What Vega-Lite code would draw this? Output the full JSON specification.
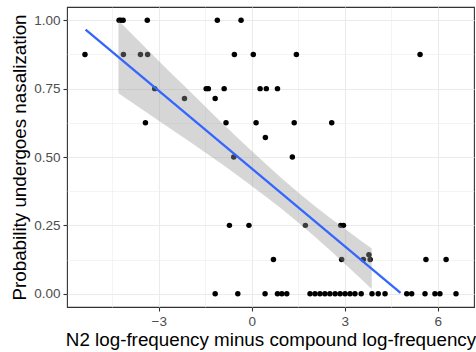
{
  "$schema": "https://vega.github.io/schema/vega-lite/v6.json",
  "autosize": "none",
  "width": 407,
  "height": 300,
  "padding": {"left": 67, "top": 7, "right": 2, "bottom": 45},
  "background": "white",
  "config": {
    "view": {"stroke": "#333333", "strokeWidth": 1.1},
    "font": "Liberation Sans"
  },
  "datasets": {
    "pts": [
      {"x": -5.38, "y": 0.875}, {"x": -4.14, "y": 0.875}, {"x": -3.59, "y": 0.875}, {"x": -3.36, "y": 0.875}, {"x": 5.43, "y": 0.875},
      {"x": -0.56, "y": 0.875}, {"x": 0.05, "y": 0.875}, {"x": 1.44, "y": 0.875},
      {"x": -4.28, "y": 1.0}, {"x": -4.23, "y": 1.0}, {"x": -4.15, "y": 1.0}, {"x": -3.37, "y": 1.0}, {"x": -1.11, "y": 1.0}, {"x": -0.345, "y": 1.0},
      {"x": -3.13, "y": 0.75}, {"x": -1.47, "y": 0.75}, {"x": -1.4, "y": 0.75}, {"x": -0.89, "y": 0.75}, {"x": 0.27, "y": 0.75}, {"x": 0.47, "y": 0.75}, {"x": 0.83, "y": 0.75},
      {"x": -2.17, "y": 0.714}, {"x": -1.18, "y": 0.714},
      {"x": -3.43, "y": 0.625}, {"x": -0.83, "y": 0.625}, {"x": 0.14, "y": 0.625}, {"x": 1.37, "y": 0.625}, {"x": 2.58, "y": 0.625},
      {"x": 0.44, "y": 0.571},
      {"x": -0.58, "y": 0.5}, {"x": 1.31, "y": 0.5},
      {"x": -0.72, "y": 0.25}, {"x": -0.09, "y": 0.25}, {"x": 1.73, "y": 0.25}, {"x": 2.87, "y": 0.25}, {"x": 2.96, "y": 0.25},
      {"x": 3.78, "y": 0.143},
      {"x": 0.7, "y": 0.125}, {"x": 2.9, "y": 0.125}, {"x": 3.6, "y": 0.125}, {"x": 3.82, "y": 0.125}, {"x": 5.62, "y": 0.125}, {"x": 6.27, "y": 0.125},
      {"x": -1.18, "y": 0}, {"x": -0.45, "y": 0}, {"x": 0.43, "y": 0}, {"x": 0.83, "y": 0}, {"x": 0.97, "y": 0}, {"x": 1.13, "y": 0},
      {"x": 1.88, "y": 0}, {"x": 2.04, "y": 0}, {"x": 2.2, "y": 0}, {"x": 2.36, "y": 0}, {"x": 2.52, "y": 0}, {"x": 2.69, "y": 0},
      {"x": 2.85, "y": 0}, {"x": 3.01, "y": 0}, {"x": 3.17, "y": 0}, {"x": 3.33, "y": 0}, {"x": 3.53, "y": 0}, {"x": 3.88, "y": 0},
      {"x": 4.08, "y": 0}, {"x": 4.3, "y": 0}, {"x": 5.0, "y": 0}, {"x": 5.16, "y": 0}, {"x": 5.59, "y": 0}, {"x": 5.91, "y": 0},
      {"x": 6.07, "y": 0}, {"x": 6.59, "y": 0}
    ],
    "band": [
      {"x": -4.3, "lo": 0.733, "hi": 0.999},
      {"x": -3, "lo": 0.633, "hi": 0.851},
      {"x": -2, "lo": 0.556, "hi": 0.74},
      {"x": -1, "lo": 0.477, "hi": 0.629},
      {"x": 0, "lo": 0.394, "hi": 0.522},
      {"x": 1, "lo": 0.307, "hi": 0.419},
      {"x": 2, "lo": 0.212, "hi": 0.324},
      {"x": 3, "lo": 0.11, "hi": 0.238},
      {"x": 3.87, "lo": 0.017, "hi": 0.165}
    ],
    "fit": [
      {"x": -5.36, "y": 0.966},
      {"x": 4.8, "y": 0.003}
    ]
  },
  "encoding": {
    "x": {
      "field": "x", "type": "quantitative",
      "scale": {"domain": [-5.96, 7.17], "nice": false, "zero": false},
      "axis": {
        "title": "N2 log-frequency minus compound log-frequency",
        "values": [-4.5, -3, -1.5, 0, 1.5, 3, 4.5, 6],
        "labelExpr": "abs(datum.value % 3) < 0.01 ? format(datum.value, 'd') : ''",
        "domain": false,
        "grid": true,
        "gridColor": "#EBEBEB",
        "gridWidth": {"condition": {"test": "abs(datum.value % 3) < 0.01", "value": 1.1}, "value": 0.55},
        "tickColor": "#333333",
        "tickOpacity": {"condition": {"test": "abs(datum.value % 3) < 0.01", "value": 1}, "value": 0},
        "tickSize": 4,
        "tickWidth": 1.1,
        "labelColor": "#4D4D4D",
        "labelFontSize": 13.5,
        "labelPadding": 3,
        "titleFontSize": 18.8,
        "titleFontWeight": "normal",
        "titleColor": "#000000",
        "titlePadding": 3
      }
    },
    "y": {
      "field": "y", "type": "quantitative",
      "scale": {"domain": [-0.0485, 1.0485], "nice": false, "zero": false},
      "axis": {
        "title": "Probability undergoes nasalization",
        "values": [0, 0.125, 0.25, 0.375, 0.5, 0.625, 0.75, 0.875, 1],
        "labelExpr": "abs((datum.value * 4) % 1) < 0.01 ? format(datum.value, '.2f') : ''",
        "domain": false,
        "grid": true,
        "gridColor": "#EBEBEB",
        "gridWidth": {"condition": {"test": "abs((datum.value * 4) % 1) < 0.01", "value": 1.1}, "value": 0.55},
        "tickColor": "#333333",
        "tickOpacity": {"condition": {"test": "abs((datum.value * 4) % 1) < 0.01", "value": 1}, "value": 0},
        "tickSize": 4,
        "tickWidth": 1.1,
        "labelColor": "#4D4D4D",
        "labelFontSize": 13.5,
        "labelPadding": 3,
        "titleFontSize": 18.8,
        "titleFontWeight": "normal",
        "titleColor": "#000000",
        "titlePadding": 4
      }
    }
  },
  "layer": [
    {
      "data": {"name": "pts"},
      "mark": {"type": "circle", "size": 30, "color": "#000000", "opacity": 1}
    },
    {
      "data": {"name": "band"},
      "mark": {"type": "area", "color": "#999999", "opacity": 0.4, "interpolate": "monotone"},
      "encoding": {
        "y": {"field": "lo", "type": "quantitative"},
        "y2": {"field": "hi"}
      }
    },
    {
      "data": {"name": "fit"},
      "mark": {"type": "line", "color": "#3366FF", "strokeWidth": 2.3},
      "encoding": {}
    }
  ]
}
